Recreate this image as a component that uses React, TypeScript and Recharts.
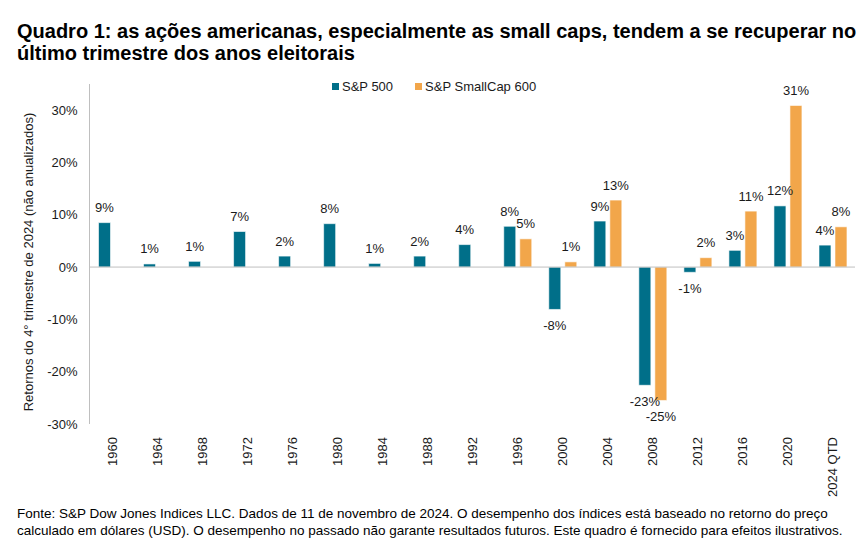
import { Bar, BarChart, LabelList, Legend, ReferenceLine, XAxis, YAxis } from 'recharts';

const YEARS = ['1960', '1964', '1968', '1972', '1976', '1980', '1984', '1988', '1992', '1996', '2000', '2004', '2008', '2012', '2016', '2020', '2024 QTD'];
const SP500 = [8.5, 0.6, 1.1, 6.8, 2.1, 8.3, 0.7, 2.1, 4.3, 7.8, -8.1, 8.8, -22.6, -1.0, 3.2, 11.7, 4.2];
const SMALLCAP = [null, null, null, null, null, null, null, null, null, 5.4, 1.0, 12.8, -25.5, 1.8, 10.7, 30.9, 7.7];
const Y_TICKS = [-30, -20, -10, 0, 10, 20, 30];

const TEAL = '#006F89';
const ORANGE = '#F2A64A';
const AXIS = '#BFBFBF';
const TEXT = '#1a1a1a';
const FONT = '"Liberation Sans", Arial, sans-serif';

const data = YEARS.map((year, i) => ({ year, sp: SP500[i], sc: SMALLCAP[i] }));

const renderValue = (props: any) => {
  const { x, y, width, height, value } = props;
  if (value === null || value === undefined) return null;
  const top = Math.min(y, y + height);
  const bottom = Math.max(y, y + height);
  const cy = value >= 0 ? top - 15 : bottom + 16;
  return (
    <text x={x + width / 2} y={cy} textAnchor="middle" dominantBaseline="central" fontSize={13} fill={TEXT} fontFamily={FONT}>
      {Math.round(value)}%
    </text>
  );
};

const YearTick = (props: any) => {
  const { x, y, payload } = props;
  return (
    <text
      x={x + 5}
      y={y + 5}
      transform={`rotate(-90, ${x + 5}, ${y + 5})`}
      textAnchor="end"
      fontSize={13}
      fill={TEXT}
      fontFamily={FONT}
    >
      {payload.value}
    </text>
  );
};

const renderLegend = () => (
  <div style={{ display: 'flex', alignItems: 'center', fontSize: 13, color: TEXT, fontFamily: FONT }}>
    <span style={{ width: 7, height: 7, background: TEAL, display: 'inline-block', marginRight: 3 }} />
    <span style={{ marginRight: 22 }}>S&amp;P 500</span>
    <span style={{ width: 7, height: 7, background: ORANGE, display: 'inline-block', marginRight: 3 }} />
    <span>S&amp;P SmallCap 600</span>
  </div>
);

export default function App() {
  return (
    <div style={{ position: 'absolute', left: 0, top: 0, width: 867, height: 552, background: '#fff', fontFamily: FONT }}>
      <div style={{ position: 'absolute', left: 17, top: 21, fontSize: 20, fontWeight: 'bold', lineHeight: '21.5px', color: '#000', whiteSpace: 'nowrap' }}>
        Quadro 1: as ações americanas, especialmente as small caps, tendem a se recuperar no
        <br />
        último trimestre dos anos eleitorais
      </div>

      <BarChart
        width={867}
        height={552}
        data={data}
        margin={{ top: 84, right: 12, bottom: 48, left: 0 }}
        barSize={12}
        barGap={4}
        style={{ position: 'absolute', left: 0, top: 0 }}
      >
        <YAxis
          width={89.5}
          domain={[-30, 35]}
          ticks={Y_TICKS}
          allowDataOverflow
          tickFormatter={(v) => `${v}%`}
          tick={{ fontSize: 13, fill: TEXT, fontFamily: FONT }}
          tickLine={false}
          tickSize={0}
          tickMargin={12}
          axisLine={{ stroke: AXIS }}
          label={{
            content: () => (
              <text
                x={33}
                y={262}
                transform="rotate(-90, 33, 262)"
                textAnchor="middle"
                fontSize={13}
                fill={TEXT}
                fontFamily={FONT}
              >
                Retornos do 4° trimestre de 2024 (não anualizados)
              </text>
            ),
          }}
        />
        <XAxis dataKey="year" axisLine={false} tickLine={false} interval={0} height={80} tick={<YearTick />} />
        <ReferenceLine y={0} stroke={AXIS} strokeWidth={1} />
        <Legend verticalAlign="middle" align="center" wrapperStyle={{ top: 79, left: 332, width: 'auto' }} content={renderLegend} />
        <Bar dataKey="sp" name="S&P 500" fill={TEAL} stroke="#ffffff" strokeWidth={0.6} isAnimationActive={false}>
          <LabelList dataKey="sp" content={renderValue} />
        </Bar>
        <Bar dataKey="sc" name="S&P SmallCap 600" fill={ORANGE} stroke="#ffffff" strokeWidth={0.6} isAnimationActive={false}>
          <LabelList dataKey="sc" content={renderValue} />
        </Bar>
      </BarChart>

      <div style={{ position: 'absolute', left: 17, top: 505, fontSize: 13.5, lineHeight: '17px', color: '#000', fontFamily: FONT, whiteSpace: 'nowrap' }}>
        Fonte: S&amp;P Dow Jones Indices LLC. Dados de 11 de novembro de 2024. O desempenho dos índices está baseado no retorno do preço
        <br />
        calculado em dólares (USD). O desempenho no passado não garante resultados futuros. Este quadro é fornecido para efeitos ilustrativos.
      </div>
    </div>
  );
}
